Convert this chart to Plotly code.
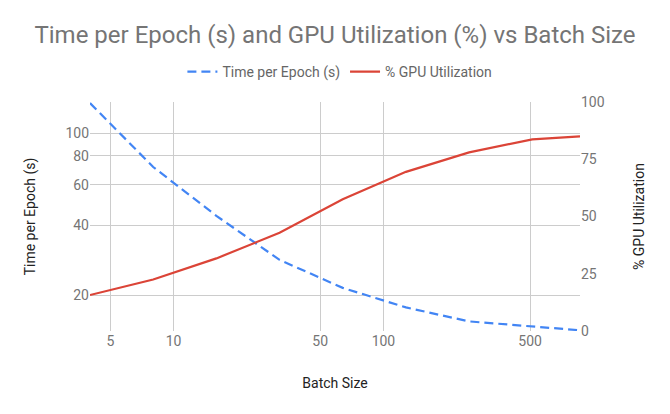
import plotly.graph_objects as go
import math

batch_size = [4, 8, 16, 32, 64, 128, 256, 512, 864]
time_per_epoch = [135, 71.5, 44, 28.4, 21.5, 17.7, 15.4, 14.7, 14.1]
gpu_util = [15.7, 22.5, 31.7, 42.9, 57.5, 69.5, 78, 83.7, 85]

x_ticks = [5, 10, 50, 100, 500]
left_ticks = [20, 40, 60, 80, 100]
right_ticks = [0, 25, 50, 75, 100]

FONT = "Roboto, Arial, sans-serif"
GRID = "#cccccc"
TICK_COL = "#757575"
TITLE_COL = "#222222"

fig = go.Figure()
fig.add_trace(go.Scatter(
    x=batch_size, y=time_per_epoch, name="Time per Epoch (s)", mode="lines",
    line=dict(color="#4285F4", width=2.2, dash="9px,5px"), yaxis="y"))
fig.add_trace(go.Scatter(
    x=batch_size, y=gpu_util, name="% GPU Utilization", mode="lines",
    line=dict(color="#DB4437", width=2.2), yaxis="y2"))

fig.update_layout(
    width=670, height=414,
    margin=dict(l=90, r=90, t=102, b=83),
    paper_bgcolor="white", plot_bgcolor="white",
    font=dict(family=FONT, size=14, color=TICK_COL),
    title=dict(text="Time per Epoch (s) and GPU Utilization (%) vs Batch Size",
               x=0.5, xanchor="center", y=1 - 35 / 414, yanchor="middle",
               font=dict(family=FONT, size=24, color="#757575")),
    legend=dict(orientation="h", x=0.51, xanchor="center", y=1 + 30 / 229, yanchor="middle",
                font=dict(family=FONT, size=14, color="#666666"), itemwidth=30,
                bgcolor="rgba(0,0,0,0)"),
    xaxis=dict(type="log", range=[math.log10(4), math.log10(864)],
               tickvals=x_ticks, ticktext=[str(v) for v in x_ticks],
               showgrid=True, gridcolor=GRID, gridwidth=1, zeroline=False, showline=False,
               ticks="", tickfont=dict(size=14, color=TICK_COL),
               title=dict(text="Batch Size", font=dict(size=14, color=TITLE_COL), standoff=30)),
    yaxis=dict(type="log", range=[math.log10(14.0), math.log10(136.5)],
               tickvals=left_ticks, ticktext=[str(v) for v in left_ticks],
               showgrid=True, gridcolor=GRID, gridwidth=1, zeroline=False, showline=False,
               ticks="", tickfont=dict(size=14, color=TICK_COL),
               title=dict(text="Time per Epoch (s)", font=dict(size=14, color=TITLE_COL), standoff=26)),
    yaxis2=dict(overlaying="y", side="right", range=[0, 100],
                tickvals=right_ticks, ticktext=[str(v) for v in right_ticks],
                showgrid=False, zeroline=False, showline=False,
                ticks="", tickfont=dict(size=14, color=TICK_COL),
                title=dict(text="% GPU Utilization", font=dict(size=14, color=TITLE_COL), standoff=30)),
)

fig.write_html("out.html")
